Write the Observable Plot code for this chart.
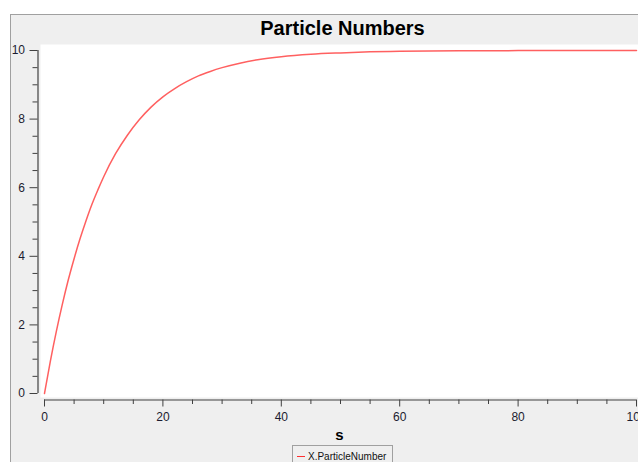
<!DOCTYPE html>
<html>
<head>
<meta charset="utf-8">
<script src="https://cdn.jsdelivr.net/npm/d3@7"></script>
<script src="https://cdn.jsdelivr.net/npm/@observablehq/plot@0.6"></script>
<style>
html, body { margin: 0; padding: 0; background: #fff; overflow: hidden; }
#wrap { position: relative; width: 638px; height: 462px; overflow: hidden; font-family: "Liberation Sans", Arial, sans-serif; }
#panel { position: absolute; left: 10px; top: 14px; width: 640px; height: 460px; background: #efefef; border-top: 1px solid #a0a0a0; border-left: 1px solid #a0a0a0; }
#title { position: absolute; left: 0; top: 18px; width: 685px; text-align: center; font-weight: bold; font-size: 20px; line-height: 20px; color: #000; }
#chart { position: absolute; left: 0; top: 0; }
#legend { position: absolute; left: 292px; top: 445px; width: 99px; height: 30px; border: 1px solid #a0a0a0; background: #efefef; font-size: 10px; color: #111; }
#legend .sw { position: absolute; left: 4px; top: 10px; width: 8px; height: 1px; background: #ff3030; }
#legend .lb { position: absolute; left: 15px; top: 5px; line-height: 12px; white-space: nowrap; }
</style>
</head>
<body>
<div id="wrap">
  <div id="panel"></div>
  <div id="chart"></div>
  <div id="title">Particle Numbers</div>
  <div id="legend"><div class="sw"></div><div class="lb">X.ParticleNumber</div></div>
</div>
<script>
// Data
const time      = [0, 1, 2, 3, 4, 5, 6, 7, 8, 9, 10, 12, 14, 16, 18, 20, 22, 24, 26, 28, 30, 33, 36, 40, 45, 50, 55, 60, 70, 80, 90, 100];
const particles = [0, 0.95, 1.81, 2.59, 3.30, 3.93, 4.51, 5.03, 5.51, 5.93, 6.32, 6.99, 7.53, 7.98, 8.35, 8.65, 8.89, 9.09, 9.26, 9.39, 9.50, 9.63, 9.73, 9.82, 9.89, 9.93, 9.96, 9.975, 9.99, 9.997, 10, 10];

const xTicks = [0, 20, 40, 60, 80, 100];
const xMinor = [5, 10, 15, 25, 30, 35, 45, 50, 55, 65, 70, 75, 85, 90, 95];
const yTicks = [0, 2, 4, 6, 8, 10];
const yMinor = [0.5, 1, 1.5, 2.5, 3, 3.5, 4.5, 5, 5.5, 6.5, 7, 7.5, 8.5, 9, 9.5];
const xLabel = "s";
const seriesName = "X.ParticleNumber";

const data = time.map((t, i) => ({t, v: particles[i]}));
const axisColor = "#404040";
const textColor = "#1c1c30";

const chart = Plot.plot({
  width: 638,
  height: 462,
  marginLeft: 40,
  marginRight: 0,
  marginTop: 44,
  marginBottom: 65,
  x: {domain: [0, 100], insetLeft: 4, insetRight: 2, label: null},
  y: {domain: [0, 10], insetTop: 6, insetBottom: 4, label: null},
  style: {background: "transparent", fontFamily: "'Liberation Sans', Arial, sans-serif", fontSize: "12px", overflow: "visible"},
  marks: [
    Plot.frame({fill: "white", stroke: null}),
    // y axis
    Plot.ruleX([0], {y1: 0, y2: 10, dx: -6.5, stroke: axisColor, strokeWidth: 1.2}),
    Plot.axisY(yTicks, {anchor: "left", tickSize: 8, tickPadding: 5, dx: -2.5, stroke: axisColor, fill: textColor, fontSize: 12}),
    Plot.axisY(yMinor, {anchor: "left", tickSize: 5, tickPadding: 5, dx: -2.5, stroke: axisColor, tickFormat: () => ""}),
    // x axis
    Plot.ruleY([0], {x1: 0, x2: 100, dy: 6.5, stroke: axisColor, strokeWidth: 1.2}),
    Plot.axisX(xTicks, {anchor: "bottom", tickSize: 7, tickPadding: 5, dy: 2.5, stroke: axisColor, fill: textColor, fontSize: 12}),
    Plot.axisX(xMinor, {anchor: "bottom", tickSize: 4.5, tickPadding: 5, dy: 2.5, stroke: axisColor, tickFormat: () => ""}),
    Plot.text([xLabel], {text: d => d, frameAnchor: "bottom", dy: 42, fontWeight: "bold", fontSize: 15, fill: "#000"}),
    // series
    Plot.line(data, {x: "t", y: "v", stroke: "#ff6060", strokeWidth: 1.5, curve: "monotone-x"})
  ]
});
document.getElementById("chart").appendChild(chart);
document.querySelector("#legend .lb").textContent = seriesName;
</script>
</body>
</html>
